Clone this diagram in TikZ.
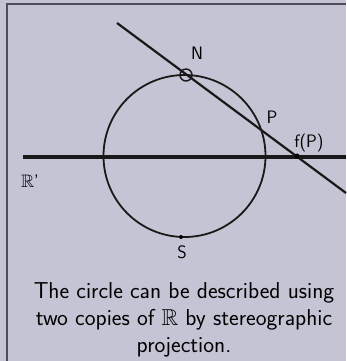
\documentclass[tikz,border=0pt]{standalone}
\usepackage{amssymb}
\usepackage{fontspec}
\begin{document}
\begin{tikzpicture}[x=1pt,y=-1pt,
  frameline/.style={draw=framecol,line width=2pt},
  thinline/.style={draw=black!90,line width=1.8pt},
  lbl/.style={font=\sffamily\fontsize{18}{18}\selectfont,inner sep=0pt},
  dotmark/.style={circle,fill=black,inner sep=0pt,minimum size=5pt}]
\definecolor{bgcol}{RGB}{196,196,212}
\definecolor{framecol}{RGB}{78,78,88}
\useasboundingbox (0,0) rectangle (346,361);
\fill[bgcol] (0,0) rectangle (346,361);
\draw[frameline] (6.5,361) -- (6.5,4.5) -- (346,4.5);
% geometry
\coordinate (O) at (184.5,156);
\coordinate (Lstart) at (23,157);
\coordinate (Lend) at (346,157);
\coordinate (Astart) at (117,23);
\coordinate (Aend) at (346,193);
\draw[line width=3.6pt,black!90] (Lstart) -- (Lend);
\draw[thinline] (O) circle[radius=81];
\draw[line width=2.2pt,black!90] (Astart) -- (Aend);
\node[circle,draw=black!90,line width=1.4pt,minimum size=12pt,inner sep=0pt] (N) at (186,75) {};
\node[dotmark] (fP) at (297,156) {};
\node[dotmark,minimum size=4pt] (S) at (181,237) {};
\coordinate (P) at (261,130);
% labels
\node[lbl] (Nl) at (197,53) {N};
\node[lbl] (Pl) at (272,117) {P};
\node[lbl] (fPl) at (309,143) {f(P)};
\node[lbl] (Rl) at (30,181) {$\mathbb{R}$'};
\node[lbl] (Sl) at (182,252) {S};
% caption
\node[font=\sffamily\fontsize{23}{27}\selectfont,align=center,inner sep=0pt] (cap) at (184,320)
  {The circle can be described using\\two copies of $\mathbb{R}$ by stereographic\\projection.};
\end{tikzpicture}
\end{document}
